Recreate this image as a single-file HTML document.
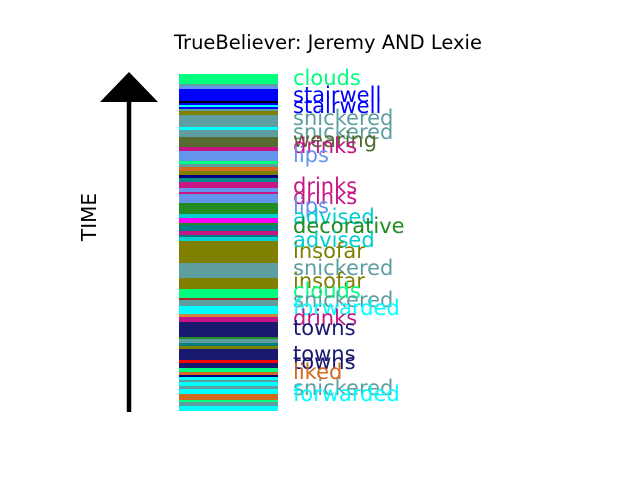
<!DOCTYPE html>
<html><head><meta charset="utf-8"><style>
body{margin:0;background:#fff;}
svg{display:block;font-family:"DejaVu Sans","Liberation Sans",sans-serif;}
</style></head><body>
<svg id="chart" width="640" height="480">
<text x="328" y="49" font-size="19.5" text-anchor="middle">TrueBeliever: Jeremy AND Lexie</text>
<line x1="129" y1="100" x2="129" y2="412" stroke="#000" stroke-width="4.5"/>
<polygon points="129,72 100,102 158,102" fill="#000"/>
<text x="96" y="217" font-size="20" text-anchor="middle" transform="rotate(-90 96 217)">TIME</text>
<g id="stripes"></g><g id="labels"></g>
</svg>
<script>
// stripe boundaries in time units (0 = bottom of bar, 337 = top)
const stripeStart = [337,327,325,322,310,308,306,304,302,300,296,284,281,274,264,260,250,247,244,240,236,233,229,223,219,217,208,197,193,188,186,180,176,174,170,165,148,133,122,113,111,105,97,94,89,74,72,68,65,62,51,48,43,39,36,34,31,29,25,22,17,11,9,5,3];
const stripeColor = ["#00ff7f","#5f9ea0","#6495ed","#0000ff","#000000","#0000ff","#00ffff","#0000ff","#5f9ea0","#808000","#5f9ea0","#00ffff","#5f9ea0","#556b2f","#c71585","#6495ed","#00ff7f","#5f9ea0","#d2691e","#808000","#000080","#008b8b","#c71585","#6495ed","#c71585","#6495ed","#228b22","#00ced1","#ff00ff","#228b22","#008080","#c71585","#008080","#00ced1","#808000","#808000","#5f9ea0","#808000","#00ff7f","#a52a2a","#5f9ea0","#00ffff","#cd853f","#c71585","#191970","#228b22","#5f9ea0","#008080","#808000","#191970","#ff0000","#191970","#00ff7f","#d2691e","#000080","#00ffff","#5f9ea0","#00ffff","#5f9ea0","#00ffff","#d2691e","#00ff7f","#5f9ea0","#00ffff","#00ffff"];
const labelWords = ["clouds","stairwell","stairwell","snickered","snickered","wearing","drinks","lips","drinks","drinks","lips","advised","decorative","advised","insofar","snickered","insofar","clouds","snickered","forwarded","drinks","towns","towns","towns","liked","snickered","forwarded"];
const labelColor = ["#00ff7f","#0000ff","#0000ff","#5f9ea0","#5f9ea0","#556b2f","#c71585","#6495ed","#c71585","#c71585","#6495ed","#00ced1","#228b22","#00ced1","#808000","#5f9ea0","#808000","#00ff7f","#5f9ea0","#00ffff","#c71585","#191970","#191970","#191970","#d2691e","#5f9ea0","#00ffff"];
const labelTime = [333,316,305,293,279,271,265,256,225,214,205,194,185,171,160,143,130,120,111,103,93,83,57,49,39,23,17];
const NS="http://www.w3.org/2000/svg";
const yScale = t => 411 - t;
const sg=document.getElementById('stripes');
stripeStart.forEach((s,i)=>{
  const e = i+1<stripeStart.length ? stripeStart[i+1] : 0;
  const r=document.createElementNS(NS,'rect');
  r.setAttribute('x',179);r.setAttribute('width',99);
  r.setAttribute('y',yScale(s));r.setAttribute('height',Math.max(0,yScale(e)-yScale(s)));
  r.setAttribute('fill',stripeColor[i]);
  
  
  sg.appendChild(r);
});
const lg=document.getElementById('labels');
labelWords.forEach((w,i)=>{
  const t=document.createElementNS(NS,'text');
  t.setAttribute('x',293);t.setAttribute('y',yScale(labelTime[i])+7);
  t.setAttribute('font-size','21');t.setAttribute('fill',labelColor[i]);
  t.textContent=w;
  
  
  lg.appendChild(t);
});
</script>
</body></html>
